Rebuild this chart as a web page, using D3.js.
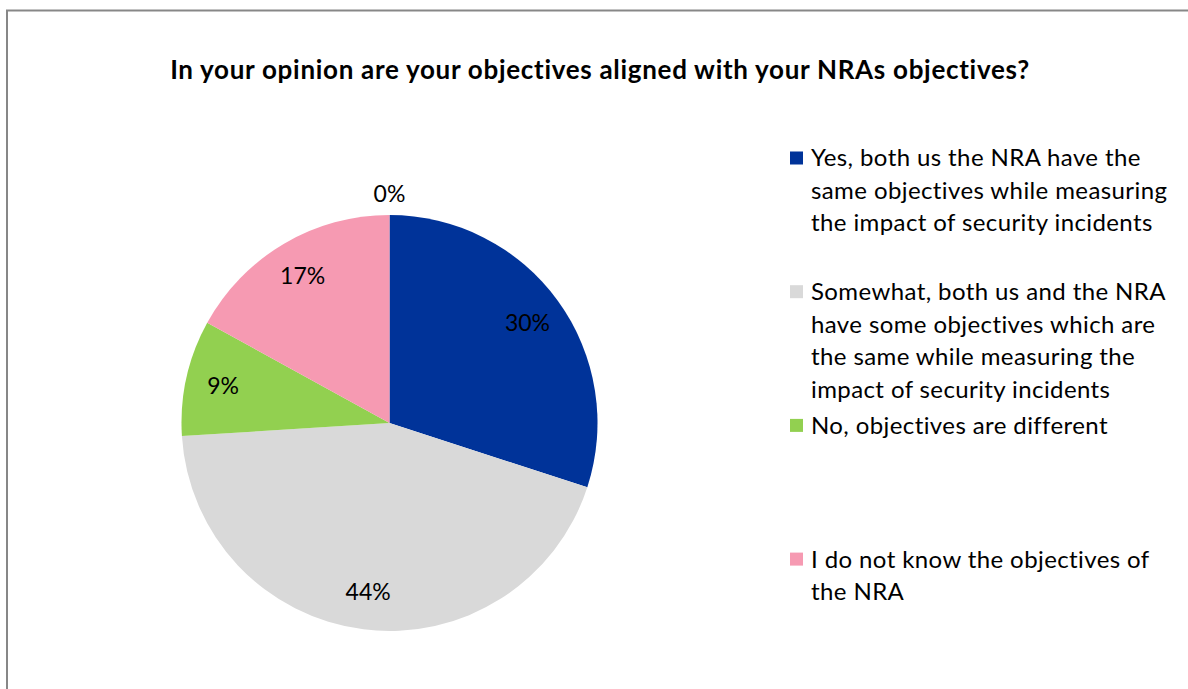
<!DOCTYPE html>
<html>
<head>
<meta charset="utf-8">
<script src="https://cdn.jsdelivr.net/npm/d3@7"></script>
<style>
  html, body { margin: 0; padding: 0; background: #fff; }
  svg { display: block; }
</style>
</head>
<body>
<svg id="chart" width="1188" height="689"></svg>
<script>
// Survey answers, in slice order (clockwise from 12 o'clock)
const categories = [
  "Yes, both us the NRA have the same objectives while measuring the impact of security incidents",
  "Somewhat, both us and the NRA have some objectives which are the same while measuring the impact of security incidents",
  "No, objectives are different",
  "I do not know the objectives of the NRA",
  ""
];
// Legend text as it wraps in the legend box
const legendLines = [
  ["Yes, both us the NRA have the", "same objectives while measuring", "the impact of security incidents"],
  ["Somewhat, both us and the NRA", "have some objectives which are", "the same while measuring the", "impact of security incidents"],
  ["No, objectives are different"],
  ["I do not know the objectives of", "the NRA"]
];
const shares = [30, 44, 9, 17, 0];           // percent of respondents
const sliceColors = ["#003399", "#d9d9d9", "#92d050", "#f69ab2", "#ffc000"];
const titleText = "In your opinion are your objectives aligned with your NRAs objectives?";

const svg = d3.select("#chart");
const FONT = "Lato, 'Open Sans', sans-serif";

// chart area frame
svg.append("path")
  .attr("d", "M7,689 V10.5 H1188")
  .attr("fill", "none")
  .attr("stroke", "#878787")
  .attr("stroke-width", 2);

// title
svg.append("text")
  .attr("x", 600)
  .attr("y", 79)
  .attr("text-anchor", "middle")
  .attr("font-family", FONT)
  .attr("font-weight", "bold")
  .attr("font-size", 26)
  .attr("letter-spacing", 0.7)
  .attr("fill", "#000")
  .text(titleText);

// pie
const cx = 389.5, cy = 423, R = 208;
const data = shares.map((v, i) => ({ name: categories[i], value: v, color: sliceColors[i] }));
const pie = d3.pie().sort(null).value(d => d.value).startAngle(0).endAngle(2 * Math.PI);
const arcs = pie(data);
const arc = d3.arc().innerRadius(0).outerRadius(R);
const insideLabel = d3.arc().innerRadius(R * 0.82).outerRadius(R * 0.82);
const outsideLabel = d3.arc().innerRadius(R + 21).outerRadius(R + 21);

const g = svg.append("g").attr("transform", `translate(${cx},${cy})`);
g.selectAll("path.slice")
  .data(arcs.filter(d => d.value > 0))
  .join("path")
  .attr("class", "slice")
  .attr("d", arc)
  .attr("fill", d => d.data.color);

const fmt = d => `${d3.format("d")(d.value)}%`;
g.selectAll("text.lbl")
  .data(arcs)
  .join("text")
  .attr("class", "lbl")
  .attr("transform", d => `translate(${(d.value > 0 ? insideLabel : outsideLabel).centroid(d)})`)
  .attr("text-anchor", "middle")
  .attr("dy", "0.35em")
  .attr("font-family", FONT)
  .attr("font-size", 23)
  .attr("fill", "#000")
  .text(fmt);

// legend
const legendX = 790, legendY0 = 158, slot = 133.7, lineH = 32.5, sw = 13;
const lg = svg.append("g");
const entries = lg.selectAll("g.entry")
  .data(data.filter(d => d.name !== ""))
  .join("g")
  .attr("class", "entry")
  .attr("transform", (d, i) => `translate(${legendX},${legendY0 + i * slot})`);

entries.append("rect")
  .attr("x", 0).attr("y", -sw / 2)
  .attr("width", sw).attr("height", sw)
  .attr("fill", d => d.color);

entries.append("text")
  .attr("font-family", FONT)
  .attr("font-size", 24)
  .attr("letter-spacing", 0.4)
  .attr("fill", "#000")
  .selectAll("tspan")
  .data((d, i) => legendLines[i])
  .join("tspan")
  .attr("x", 21)
  .attr("y", (t, j) => j * lineH)
  .attr("dy", "0.35em")
  .text(t => t);
</script>
</body>
</html>
